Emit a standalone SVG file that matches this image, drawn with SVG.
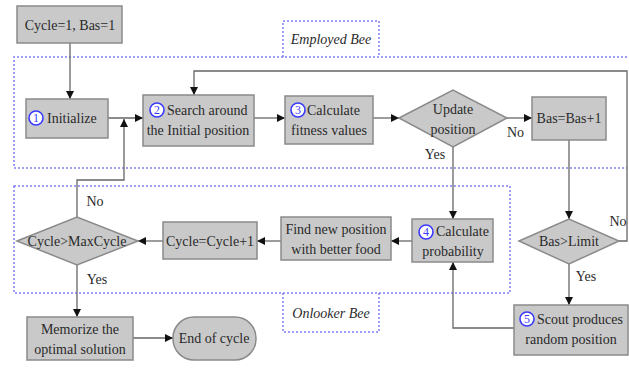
<svg xmlns="http://www.w3.org/2000/svg" width="629" height="369" viewBox="0 0 629 369">
<style>
.box{fill:#c9c9c9;stroke:#8a8a8a;stroke-width:1.5}
.t{font-family:'Liberation Serif','DejaVu Serif',serif;font-size:14px;fill:#2a2a2a;text-anchor:middle}
.s{text-anchor:start}
.i{font-style:italic}
.num{fill:#fff;stroke:#3a3aff;stroke-width:1.6}
.nt{font-family:'Liberation Serif','DejaVu Serif',serif;font-size:12px;fill:#3a3aff;text-anchor:middle}
.c{fill:none;stroke:#666;stroke-width:1.3}
.reg{fill:none;stroke:#7f7ff8;stroke-width:1.5;stroke-dasharray:2 2}
</style>
<defs>
<marker id="a" viewBox="0 0 10 10" refX="10" refY="5" markerWidth="8" markerHeight="8" markerUnits="userSpaceOnUse" orient="auto">
<path d="M0,0 L10,5 L0,10 z" fill="#111"/>
</marker>
</defs>
<rect width="629" height="369" fill="#fff"/>
<g id="regions">
<path class="reg" d="M627,57 L14,57 L14,168 L627,168"/>
<path class="reg" d="M283,57 L283,21 L379,21 L379,57"/>
<rect class="reg" x="14" y="186" width="496" height="107"/>
<path class="reg" d="M283,293 L283,332 L379,332 L379,293"/>
<text class="t i" x="331" y="44">Employed Bee</text>
<text class="t i" x="331" y="318">Onlooker Bee</text>
</g>
<g id="connectors">
<path class="c" d="M70,43 V99" marker-end="url(#a)"/>
<path class="c" d="M108,118 H143" marker-end="url(#a)"/>
<path class="c" d="M254,118 H285" marker-end="url(#a)"/>
<path class="c" d="M373,118 H399" marker-end="url(#a)"/>
<path class="c" d="M507,118 H532" marker-end="url(#a)"/>
<path class="c" d="M453,147 V219" marker-end="url(#a)"/>
<path class="c" d="M569,140 V219" marker-end="url(#a)"/>
<path class="c" d="M619,241 H627 V71 H194 V95" marker-end="url(#a)"/>
<path class="c" d="M569,264 V305" marker-end="url(#a)"/>
<path class="c" d="M514,328 H453 V262" marker-end="url(#a)"/>
<path class="c" d="M412,241 H391" marker-end="url(#a)"/>
<path class="c" d="M281,241 H257" marker-end="url(#a)"/>
<path class="c" d="M163,241 H138" marker-end="url(#a)"/>
<path class="c" d="M77,217 V180 H124 V119" marker-end="url(#a)"/>
<path class="c" d="M77,265 V317" marker-end="url(#a)"/>
<path class="c" d="M133,338 H173" marker-end="url(#a)"/>
<text class="t s" x="507" y="137">No</text>
<text class="t" x="435" y="159">Yes</text>
<text class="t" x="618" y="226">No</text>
<text class="t" x="586" y="281">Yes</text>
<text class="t" x="95" y="206">No</text>
<text class="t" x="97" y="284">Yes</text>
</g>
<g id="start">
<rect class="box" x="17" y="6" width="105" height="37"/>
<text class="t" x="70" y="30">Cycle=1, Bas=1</text>
</g>
<g id="initialize">
<rect class="box" x="26" y="99" width="82" height="39"/>
<circle class="num" cx="36" cy="118" r="7"/>
<text class="nt" x="36" y="122">1</text>
<text class="t s" x="47" y="123">Initialize</text>
</g>
<g id="search">
<rect class="box" x="143" y="95" width="111" height="51"/>
<circle class="num" cx="157" cy="110" r="7"/>
<text class="nt" x="157" y="114">2</text>
<text class="t s" x="167" y="115">Search around</text>
<text class="t" x="198" y="135">the Initial position</text>
</g>
<g id="fitness">
<rect class="box" x="285" y="96" width="88" height="48"/>
<circle class="num" cx="298" cy="110" r="7"/>
<text class="nt" x="298" y="114">3</text>
<text class="t s" x="307" y="115">Calculate</text>
<text class="t" x="329" y="135">fitness values</text>
</g>
<g id="update">
<polygon class="box" points="399,118 453,90 507,118 453,147"/>
<text class="t" x="453" y="114">Update</text>
<text class="t" x="453" y="134">position</text>
</g>
<g id="bas">
<rect class="box" x="532" y="97" width="74" height="43"/>
<text class="t" x="569" y="123">Bas=Bas+1</text>
</g>
<g id="baslimit">
<polygon class="box" points="519,241 569,219 619,241 569,264"/>
<text class="t" x="569" y="246">Bas&gt;Limit</text>
</g>
<g id="scout">
<rect class="box" x="514" y="305" width="114" height="50"/>
<circle class="num" cx="527" cy="319" r="7"/>
<text class="nt" x="527" y="323">5</text>
<text class="t s" x="537" y="324">Scout produces</text>
<text class="t" x="571" y="344">random position</text>
</g>
<g id="probability">
<rect class="box" x="412" y="219" width="81" height="43"/>
<circle class="num" cx="426" cy="232" r="7"/>
<text class="nt" x="426" y="236">4</text>
<text class="t s" x="436" y="236">Calculate</text>
<text class="t" x="453" y="256">probability</text>
</g>
<g id="findnew">
<rect class="box" x="281" y="217" width="110" height="43"/>
<text class="t" x="336" y="234">Find new position</text>
<text class="t" x="336" y="254">with better food</text>
</g>
<g id="cycleinc">
<rect class="box" x="163" y="222" width="94" height="37"/>
<text class="t" x="210" y="246">Cycle=Cycle+1</text>
</g>
<g id="maxcycle">
<polygon class="box" points="17,241 77,217 138,241 77,265"/>
<text class="t" x="77" y="246">Cycle&gt;MaxCycle</text>
</g>
<g id="memorize">
<rect class="box" x="27" y="317" width="106" height="43"/>
<text class="t" x="80" y="334">Memorize  the</text>
<text class="t" x="80" y="354">optimal solution</text>
</g>
<g id="end">
<rect class="box" x="173" y="317" width="83" height="43" rx="21" ry="21"/>
<text class="t" x="214" y="343">End of cycle</text>
</g>
</svg>
